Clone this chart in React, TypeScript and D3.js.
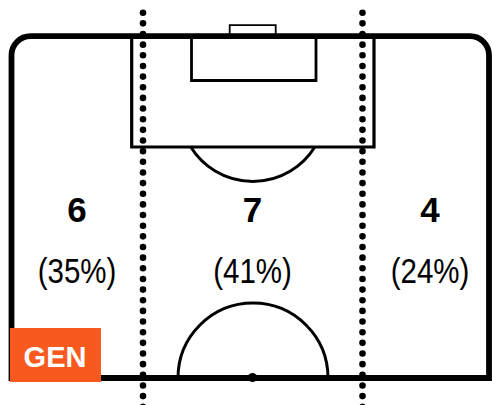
import React from "react";
import * as d3 from "d3";

// ---- data ----
const zoneNames = ["left", "centre", "right"];
const zoneCounts = [6, 7, 4];
const zonePercents = [35, 41, 24];
const badgeLabel = "GEN";

// ---- layout ----
const W = 492;
const H = 405;
const fieldLeft = 11.5;
const fieldRight = 489;
const fieldTop = 36.2;
const fieldBottom = 378;
const cornerR = 19;
const dividerXs = [143, 362.5];
const zoneCenters = [77, 252.5, 430];

const penalty = { x0: 131.7, x1: 374, y1: 147 };
const sixYard = { x0: 191.5, x1: 316, y1: 80.5 };
const goal = { x0: 229.7, x1: 275.7, y0: 25.2 };
const dArc = { cx: 252.8, cy: 108.5, r: 73 };
const centreArc = { cx: 253, cy: 378, r: 75 };

export default function App() {
  const outline = d3.path();
  outline.moveTo(fieldLeft, fieldBottom);
  outline.lineTo(fieldLeft, fieldTop + cornerR);
  outline.arcTo(fieldLeft, fieldTop, fieldLeft + cornerR, fieldTop, cornerR);
  outline.lineTo(fieldRight - cornerR, fieldTop);
  outline.arcTo(fieldRight, fieldTop, fieldRight, fieldTop + cornerR, cornerR);
  outline.lineTo(fieldRight, fieldBottom);
  outline.lineTo(fieldLeft, fieldBottom);
  outline.closePath();

  const pen = d3.path();
  pen.moveTo(penalty.x0, fieldTop);
  pen.lineTo(penalty.x0, penalty.y1);
  pen.lineTo(penalty.x1, penalty.y1);
  pen.lineTo(penalty.x1, fieldTop);

  const six = d3.path();
  six.moveTo(sixYard.x0, fieldTop);
  six.lineTo(sixYard.x0, sixYard.y1);
  six.lineTo(sixYard.x1, sixYard.y1);
  six.lineTo(sixYard.x1, fieldTop);

  const g = d3.path();
  g.moveTo(goal.x0, fieldTop);
  g.lineTo(goal.x0, goal.y0);
  g.lineTo(goal.x1, goal.y0);
  g.lineTo(goal.x1, fieldTop);

  const a = Math.asin((penalty.y1 - dArc.cy) / dArc.r);
  const d = d3.path();
  d.moveTo(dArc.cx + dArc.r * Math.cos(a), dArc.cy + dArc.r * Math.sin(a));
  d.arc(dArc.cx, dArc.cy, dArc.r, a, Math.PI - a);

  const c = d3.path();
  c.moveTo(centreArc.cx - centreArc.r, centreArc.cy);
  c.arc(centreArc.cx, centreArc.cy, centreArc.r, Math.PI, 2 * Math.PI);

  return (
    <svg
      width={W}
      height={H}
      style={{ position: "absolute", left: 0, top: 0, background: "#fff" }}
    >
      <rect x={0} y={0} width={W} height={H} fill="#fff" />
      <path d={g.toString()} fill="none" stroke="#000" strokeWidth={1.8} />
      <path d={six.toString()} fill="none" stroke="#000" strokeWidth={2.8} />
      <path d={pen.toString()} fill="none" stroke="#000" strokeWidth={3.2} />
      <path d={d.toString()} fill="none" stroke="#000" strokeWidth={3} />
      <path d={c.toString()} fill="none" stroke="#000" strokeWidth={3} />
      <path
        d={outline.toString()}
        fill="none"
        stroke="#000"
        strokeWidth={5.8}
        strokeLinejoin="miter"
      />
      <circle cx={252.5} cy={377.5} r={4.5} fill="#000" />
      {dividerXs.map((x, i) => (
        <line
          key={i}
          x1={x}
          x2={x}
          y1={12.7}
          y2={H + 10}
          stroke="#000"
          strokeWidth={6.6}
          strokeLinecap="round"
          strokeDasharray="0 10.65"
        />
      ))}
      {zoneNames.map((name, i) => (
        <g key={name}>
          <text
            x={zoneCenters[i]}
            y={222}
            textAnchor="middle"
            fontFamily="'Liberation Sans', Arial, sans-serif"
            fontWeight="bold"
            fontSize={35}
            fill="#000"
          >
            {zoneCounts[i]}
          </text>
          <g transform={`translate(${zoneCenters[i]},283) scale(0.82,1)`}>
            <text
              x={0}
              y={0}
              textAnchor="middle"
              fontFamily="'Liberation Sans', Arial, sans-serif"
              fontSize={36}
              fill="#000"
            >
              {`(${zonePercents[i]}%)`}
            </text>
          </g>
        </g>
      ))}
      <rect x={10} y={328} width={91} height={54} fill="#F8591E" />
      <text
        x={55}
        y={366.5}
        textAnchor="middle"
        fontFamily="'Liberation Sans', Arial, sans-serif"
        fontWeight="bold"
        fontSize={29}
        fill="#fff"
      >
        {badgeLabel}
      </text>
    </svg>
  );
}
